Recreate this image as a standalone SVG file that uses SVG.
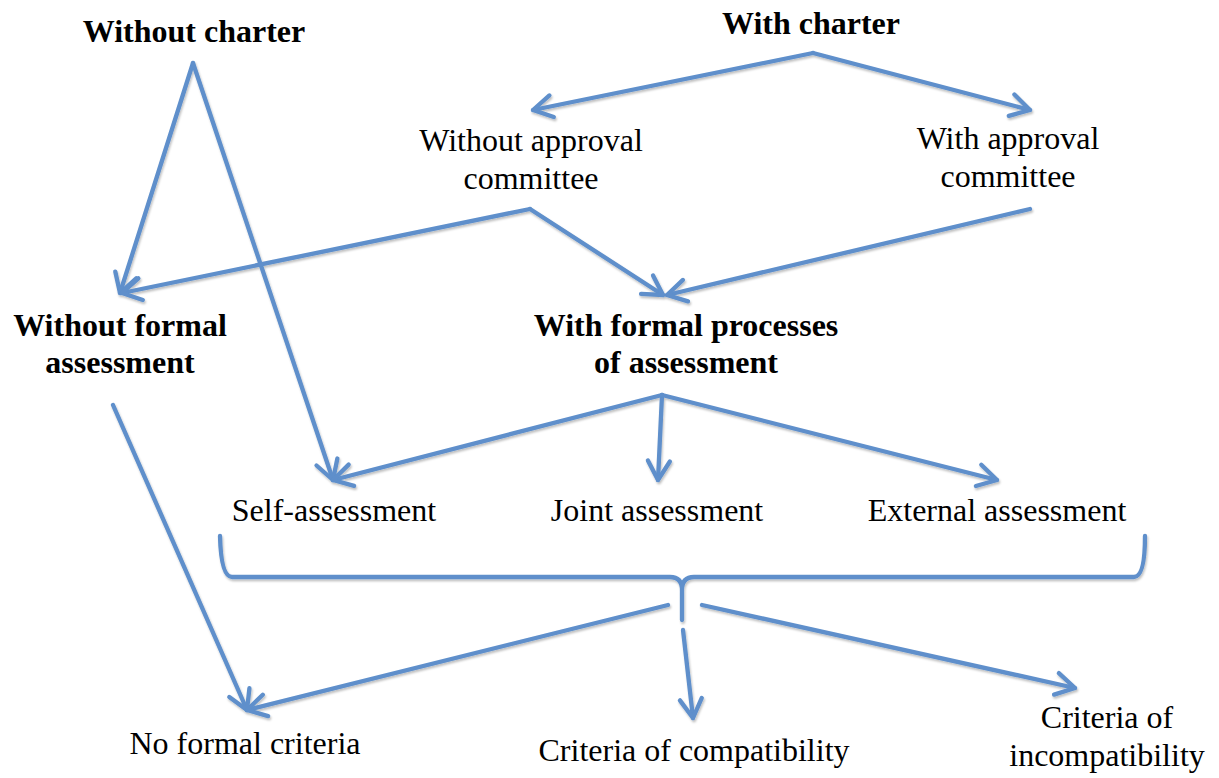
<svg xmlns="http://www.w3.org/2000/svg" width="1219" height="778" viewBox="0 0 1219 778">
<defs>
<style>
text{font-family:"Liberation Serif","Times New Roman",serif;font-size:32px;fill:#000;text-anchor:middle}
.b{font-weight:bold}
.c{fill:none;stroke:#5E8FCB;stroke-width:4.3;stroke-linecap:round;stroke-linejoin:round}
</style>
<marker id="ah" viewBox="-24 -15 28 30" refX="0" refY="0" markerWidth="28" markerHeight="30" markerUnits="userSpaceOnUse" orient="auto">
<path d="M-19,-11 L0,0 L-19,11" fill="none" stroke="#5E8FCB" stroke-width="4.3" stroke-linecap="round" stroke-linejoin="round"/>
</marker>
<filter id="sh" x="-5%" y="-5%" width="110%" height="110%">
<feDropShadow dx="1" dy="2" stdDeviation="1.2" flood-color="#000" flood-opacity="0.25"/>
</filter>
</defs>
<rect width="1219" height="778" fill="#fff"/>
<g id="connectors" class="c" filter="url(#sh)">
<path d="M193,63 L120,293" marker-end="url(#ah)"/>
<path d="M193,63 L333,480" marker-end="url(#ah)"/>
<path d="M813,53 L533,110" marker-end="url(#ah)"/>
<path d="M813,53 L1030,110" marker-end="url(#ah)"/>
<path d="M530,209 L122,293" marker-end="url(#ah)"/>
<path d="M530,209 L663,295" marker-end="url(#ah)"/>
<path d="M1030,209 L667,295" marker-end="url(#ah)"/>
<path d="M662,395 L333,480" marker-end="url(#ah)"/>
<path d="M662,395 L658,480" marker-end="url(#ah)"/>
<path d="M662,395 L997,480" marker-end="url(#ah)"/>
<path d="M113,405 L247,710" marker-end="url(#ah)"/>
<path d="M220,536 Q221,577 232,577 L670,577 Q682,577 682,590 L682,620 M682,590 Q682,577 694,577 L1134,577 Q1145,577 1145,536"/>
<path d="M668,605 L247,710" marker-end="url(#ah)"/>
<path d="M683,630 L693,718" marker-end="url(#ah)"/>
<path d="M702,605 L1075,688" marker-end="url(#ah)"/>
</g>
<g id="without-charter"><text class="b" x="194" y="42">Without charter</text></g>
<g id="with-charter"><text class="b" x="811" y="34">With charter</text></g>
<g id="without-approval"><text x="531" y="151">Without approval</text><text x="531" y="189">committee</text></g>
<g id="with-approval"><text x="1008" y="149">With approval</text><text x="1008" y="187">committee</text></g>
<g id="without-formal"><text class="b" x="120" y="336">Without formal</text><text class="b" x="120" y="373">assessment</text></g>
<g id="with-formal"><text class="b" x="686" y="336">With formal processes</text><text class="b" x="686" y="373">of assessment</text></g>
<g id="self-assessment"><text x="334" y="521">Self-assessment</text></g>
<g id="joint-assessment"><text x="657" y="521">Joint assessment</text></g>
<g id="external-assessment"><text x="997" y="521">External assessment</text></g>
<g id="no-formal-criteria"><text x="245" y="754">No formal criteria</text></g>
<g id="criteria-compatibility"><text x="694" y="761">Criteria of compatibility</text></g>
<g id="criteria-incompatibility"><text x="1107" y="728">Criteria of</text><text x="1107" y="766">incompatibility</text></g>
</svg>
